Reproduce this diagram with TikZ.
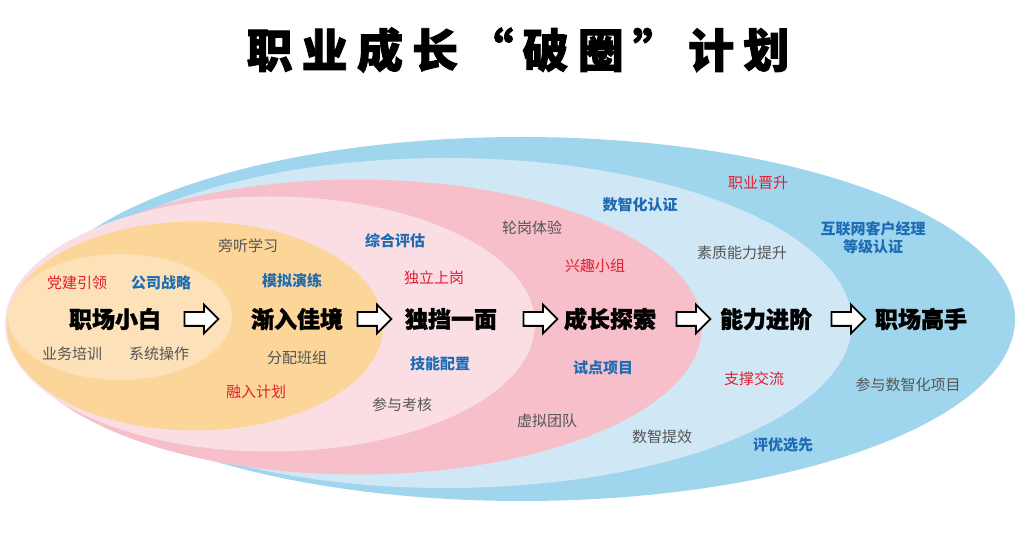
\documentclass[tikz,border=0pt]{standalone}
\usepackage{fontspec}
\usepackage{tikz}
\usetikzlibrary{shapes.arrows, positioning}
\newfontfamily\cjk{Noto Sans CJK SC}
\newfontfamily\cjkheavy{Noto Sans CJK SC}[BoldFeatures={FakeBold=1.6}]
\newfontfamily\cjktitle{Noto Sans CJK SC}[LetterSpace=20, BoldFeatures={FakeBold=2}]
\definecolor{ringblue}{RGB}{160,213,238}
\definecolor{ringlblue}{RGB}{208,232,246}
\definecolor{ringpink}{RGB}{246,191,201}
\definecolor{ringlpink}{RGB}{250,222,227}
\definecolor{ringorange}{RGB}{252,213,152}
\definecolor{ringcream}{RGB}{253,225,185}
\definecolor{txtred}{RGB}{228,28,48}
\definecolor{txtblue}{RGB}{30,108,180}
\definecolor{txtgray}{RGB}{85,85,85}
\tikzset{
  stage/.style={font=\cjkheavy\bfseries\fontsize{11.5}{13}\selectfont,
    text=black, inner sep=1pt},
  steparrow/.style={single arrow, draw=black, fill=white, line width=0.9pt,
    minimum height=17pt, minimum width=13.5pt, single arrow head extend=3.75pt,
    inner xsep=0pt, inner ysep=3pt},
  redtag/.style={font=\cjk\fontsize{7.5}{9}\selectfont, text=txtred},
  bluetag/.style={font=\cjk\bfseries\fontsize{7.5}{9}\selectfont, text=txtblue,
    align=center},
  graytag/.style={font=\cjk\fontsize{7.5}{9}\selectfont, text=txtgray}
}

\begin{document}
\begin{tikzpicture}[x=0.5pt, y=-0.5pt]
  \useasboundingbox (0,0) rectangle (1030,534);

  % rings, outside in
  \fill[ringblue] (522,319) ellipse [x radius=246.5pt, y radius=91pt];
  \fill[ringlblue] (446,323) ellipse [x radius=203pt, y radius=82.5pt];
  \fill[ringpink] (357,327) ellipse [x radius=172.5pt, y radius=73.75pt];
  \fill[ringlpink] (270,324) ellipse [x radius=132.5pt, y radius=63.75pt];
  \fill[ringorange] (195,326) ellipse [x radius=94pt, y radius=52.25pt];
  \fill[ringcream] (120,317) ellipse [x radius=56pt, y radius=31.5pt];

  \node[font=\cjktitle\bfseries\fontsize{23}{26}\selectfont] (title) at (518,50) {职业成长“破圈”计划};

  % stages
  \node[stage] (xiaobai) at (115,319) {职场小白};
  \node[stage] (jianru) at (297,319) {渐入佳境};
  \node[stage] (dudang) at (451,319) {独挡一面};
  \node[stage] (tansuo) at (610,319) {成长探索};
  \node[stage] (jinjie) at (766,319) {能力进阶};
  \node[stage] (gaoshou) at (921,319) {职场高手};

  \node[steparrow] (arr1) at (198,319) {};
  \node[steparrow] (arr2) at (371,319) {};
  \node[steparrow] (arr3) at (537,319) {};
  \node[steparrow] (arr4) at (690,319) {};
  \node[steparrow] (arr5) at (845,319) {};

  % ring 1
  \node[redtag] (t11) at (77,283) {党建引领};
  \node[bluetag] (t12) at (161,283) {公司战略};
  \node[graytag] (t13) at (72,354) {业务培训};
  \node[graytag] (t14) at (159,354) {系统操作};
  % ring 2
  \node[graytag] (t21) at (248,246) {旁听学习};
  \node[bluetag] (t22) at (292,281) {模拟演练};
  \node[graytag] (t23) at (297,358) {分配班组};
  \node[redtag] (t24) at (256,392) {融入计划};
  % ring 3
  \node[bluetag] (t31) at (395,241) {综合评估};
  \node[redtag] (t32) at (434,278) {独立上岗};
  \node[bluetag] (t33) at (440,364) {技能配置};
  \node[graytag] (t34) at (402,405) {参与考核};
  % ring 4
  \node[graytag] (t41) at (532,228) {轮岗体验};
  \node[redtag] (t42) at (595,266) {兴趣小组};
  \node[bluetag] (t43) at (603,368) {试点项目};
  \node[graytag] (t44) at (547,421) {虚拟团队};
  % ring 5
  \node[bluetag] (t51) at (640,205) {数智化认证};
  \node[graytag] (t52) at (742,253) {素质能力提升};
  \node[redtag] (t53) at (754,379) {支撑交流};
  \node[graytag] (t54) at (662,437) {数智提效};
  % ring 6
  \node[redtag] (t61) at (758,183) {职业晋升};
  \node[bluetag] (t62) at (873,238) {互联网客户经理\\等级认证};
  \node[graytag] (t63) at (908,385) {参与数智化项目};
  \node[bluetag] (t64) at (783,445) {评优选先};
\end{tikzpicture}
\end{document}
